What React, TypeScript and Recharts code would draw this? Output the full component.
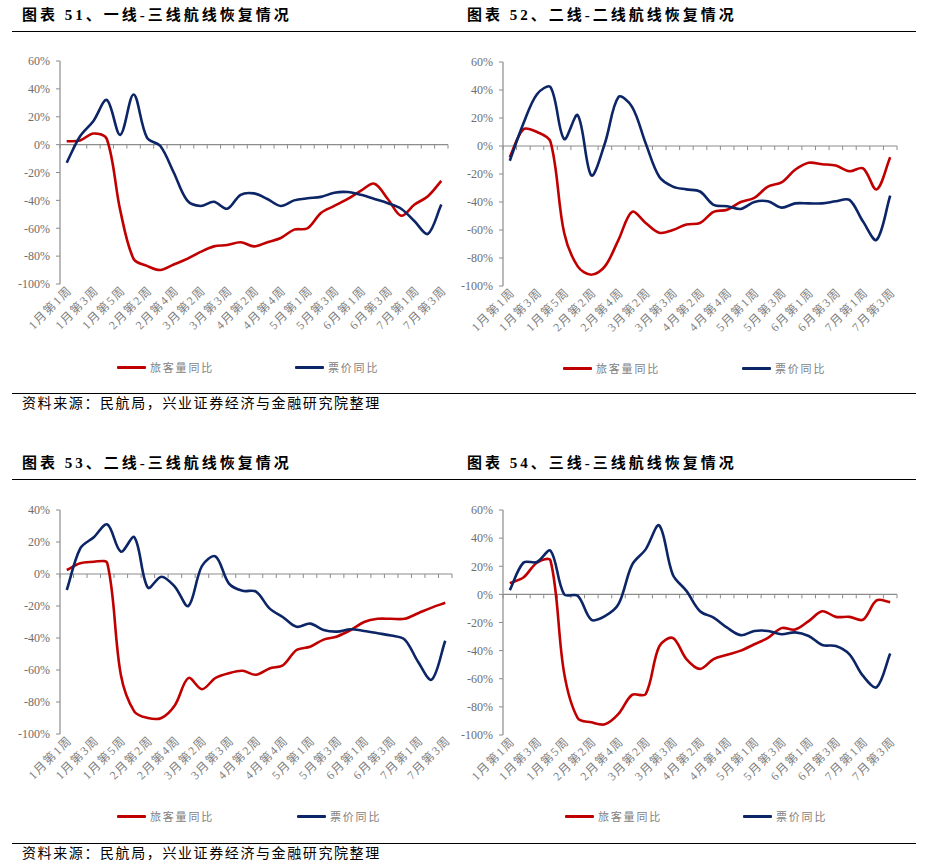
import { LineChart, Line, XAxis, YAxis, ReferenceLine } from 'recharts';

// 29 weekly categories, every other one is labelled on the axis
const weeks = [
  '1月第1周', '1月第2周', '1月第3周', '1月第4周', '1月第5周',
  '2月第1周', '2月第2周', '2月第3周', '2月第4周',
  '3月第1周', '3月第2周', '3月第3周', '3月第3周',
  '4月第1周', '4月第2周', '4月第3周', '4月第4周', '4月第5周',
  '5月第1周', '5月第2周', '5月第3周', '5月第4周',
  '6月第1周', '6月第2周', '6月第3周', '6月第4周',
  '7月第1周', '7月第2周', '7月第3周',
];

const ticksTall = [-100, -80, -60, -40, -20, 0, 20, 40, 60];
const ticksShort = [-100, -80, -60, -40, -20, 0, 20, 40];

// 图表51 一线-三线
const pax51 = [2.4, 3, 8, 4, -47, -82, -87, -90, -86, -82, -77, -73, -72, -70, -73, -70, -67, -61, -60, -49, -44, -39, -33, -28, -39, -51, -43, -37, -26];
const fare51 = [-13, 6, 17, 32, 7, 36, 5, -1, -20, -40, -44, -41, -46, -36, -35, -39, -44, -40, -38.5, -37.5, -34.5, -34, -36, -39, -42, -46, -55, -64, -43];

// 图表52 二线-二线
const pax52 = [-8, 12, 10, 3, -62, -86, -92, -86, -67, -47, -55, -62, -60, -56, -55, -47, -45.5, -40, -37, -29, -26, -17, -12, -13, -14, -18, -16, -31, -8];
const fare52 = [-10.5, 16, 37, 42, 5, 22, -21, 2, 35, 28, 2, -22, -29, -31, -32.5, -42, -43, -45, -40, -39.5, -44, -41, -41, -41, -39.5, -38.5, -54, -67, -35.5];

// 图表53 二线-三线
const pax53 = [2.5, 6.7, 7.7, 6.7, -63, -86, -90, -90, -82, -65, -72, -65, -62, -60.5, -63, -59, -57, -47.5, -45.5, -41, -39, -35, -30, -28, -28, -28, -24.5, -21, -18];
const fare53 = [-10, 16, 23, 31, 14, 23, -8.5, -1.7, -8, -20, 5, 11, -6, -10.5, -11, -21.5, -27, -33, -31, -35, -36, -34.5, -35.6, -37, -38.5, -41, -55, -66, -41.7];

// 图表54 三线-三线
const pax54 = [8, 12, 22.5, 24, -56, -88, -91, -92.4, -85, -71.5, -71, -37, -31, -46, -53, -46, -43, -40, -35.5, -31, -24, -25, -19, -12, -16, -16, -18, -4.3, -5.5];
const fare54 = [3, 22.5, 23, 31, 0, -1, -18, -15.5, -7, 21, 32, 49, 14, 2.5, -12, -16.5, -23.7, -29, -26, -26, -28.4, -27, -29.6, -36, -36.7, -42.6, -58, -66, -42];

const RED = '#C00000';
const NAVY = '#0C2566';
const AXIS = '#8C8C8C';
const SERIF = '"Liberation Serif", "Noto Sans CJK SC", serif';

// Excel-like smoothed line: bezier with chord-length scaled tangents
function smooth(ctx: any) {
  let pts: number[][] = [];
  const dist = (a: number[], b: number[]) => Math.hypot(b[0] - a[0], b[1] - a[1]);
  return {
    areaStart() {},
    areaEnd() {},
    lineStart() { pts = []; },
    point(x: number, y: number) { pts.push([+x, +y]); },
    lineEnd() {
      if (!pts.length) return;
      ctx.moveTo(pts[0][0], pts[0][1]);
      for (let i = 0; i < pts.length - 1; i++) {
        const p0 = pts[i - 1] || pts[i];
        const p1 = pts[i];
        const p2 = pts[i + 1];
        const p3 = pts[i + 2] || p2;
        const d01 = dist(p0, p1);
        const d12 = dist(p1, p2);
        const d23 = dist(p2, p3);
        const a = d01 + d12 > 0 ? d12 / (3 * (d01 + d12)) : 0;
        const b = d12 + d23 > 0 ? d12 / (3 * (d12 + d23)) : 0;
        ctx.bezierCurveTo(
          p1[0] + (p2[0] - p0[0]) * a, p1[1] + (p2[1] - p0[1]) * a,
          p2[0] - (p3[0] - p1[0]) * b, p2[1] - (p3[1] - p1[1]) * b,
          p2[0], p2[1],
        );
      }
    },
  };
}

// zero line with category tick marks
function ZeroAxis(props: any) {
  const { x1, y1, x2 } = props;
  const n = weeks.length;
  const step = (x2 - x1) / n;
  return (
    <g>
      <line x1={x1} y1={y1} x2={x2} y2={y1} stroke={AXIS} strokeWidth={1.2} />
      {Array.from({ length: n + 1 }, (_, i) => (
        <line key={i} x1={x1 + i * step} y1={y1} x2={x1 + i * step} y2={y1 + 4} stroke={AXIS} strokeWidth={1} />
      ))}
    </g>
  );
}

function WeekTick({ x, y, payload }: any) {
  return (
    <text
      transform={`translate(${x + 6},${y - 1}) rotate(-45)`}
      textAnchor="end"
      fontSize={12}
      letterSpacing={1.5}
      fill="#7F7F7F"
      fontFamily={SERIF}
    >
      {weeks[payload.value]}
    </text>
  );
}

type PanelProps = {
  pax: number[];
  fare: number[];
  yTicks: number[];
  left: number;
  top: number;
  plotW: number;
  plotH: number;
};

function Panel({ pax, fare, yTicks, left, top, plotW, plotH }: PanelProps) {
  const data = weeks.map((week, idx) => ({ idx, week, pax: pax[idx], fare: fare[idx] }));
  const half = plotW / weeks.length / 2;
  return (
    <div style={{ position: 'absolute', left: left - 60, top: top - 10 }}>
      <LineChart
        width={plotW + 65}
        height={plotH + 70}
        data={data}
        margin={{ top: 10, right: 5, bottom: 0, left: 0 }}
      >
        <XAxis
          dataKey="idx"
          type="category"
          interval={1}
          padding={{ left: half, right: half }}
          axisLine={false}
          tickLine={false}
          height={60}
          tick={<WeekTick />}
        />
        <YAxis
          width={60}
          domain={[yTicks[0], yTicks[yTicks.length - 1]]}
          ticks={yTicks}
          interval={0}
          tickFormatter={(v) => `${v}%`}
          axisLine={{ stroke: AXIS, strokeWidth: 1.2 }}
          tickLine={{ stroke: AXIS }}
          tickSize={4}
          tickMargin={6}
          tick={{ fontSize: 12, fill: '#6E6E6E', fontFamily: SERIF }}
        />
        <ReferenceLine y={0} shape={<ZeroAxis />} />
        <Line dataKey="pax" type={smooth as any} stroke={RED} strokeWidth={2.6} dot={false} isAnimationActive={false} />
        <Line dataKey="fare" type={smooth as any} stroke={NAVY} strokeWidth={2.6} dot={false} isAnimationActive={false} />
      </LineChart>
    </div>
  );
}

function LegendRow({ left, top, redX, navyX }: { left: number; top: number; redX: number; navyX: number }) {
  const item = (x: number, color: string, label: string) => (
    <div style={{ position: 'absolute', left: x, top: 0, display: 'flex', alignItems: 'center', height: 14, whiteSpace: 'nowrap' }}>
      <div style={{ width: 29, height: 3, background: color, borderRadius: 1 }} />
      <span style={{ marginLeft: 4, fontSize: 11, color: '#7F7F7F', letterSpacing: 1.8, fontFamily: SERIF }}>{label}</span>
    </div>
  );
  return (
    <div style={{ position: 'absolute', left, top }}>
      {item(redX, RED, '旅客量同比')}
      {item(navyX, NAVY, '票价同比')}
    </div>
  );
}

const titleStyle = {
  position: 'absolute' as const,
  fontSize: 15,
  fontWeight: 700,
  letterSpacing: 3,
  fontFamily: SERIF,
  color: '#000',
  lineHeight: '18px',
  whiteSpace: 'nowrap' as const,
};

const sourceStyle = {
  position: 'absolute' as const,
  left: 22,
  fontSize: 14,
  letterSpacing: 1.6,
  fontFamily: SERIF,
  color: '#000',
  lineHeight: '18px',
  whiteSpace: 'nowrap' as const,
};

const rule = (top: number) => (
  <div style={{ position: 'absolute', left: 12, width: 904, top, height: 1, background: '#000' }} />
);

export default function App() {
  return (
    <div style={{ position: 'absolute', left: 0, top: 0, width: 929, height: 867, background: '#fff', overflow: 'hidden' }}>
      <div style={{ ...titleStyle, left: 22, top: 6 }}>图表 51、一线-三线航线恢复情况</div>
      <div style={{ ...titleStyle, left: 467, top: 6 }}>图表 52、二线-二线航线恢复情况</div>
      {rule(31)}
      <Panel pax={pax51} fare={fare51} yTicks={ticksTall} left={60} top={61} plotW={388} plotH={223} />
      <Panel pax={pax52} fare={fare52} yTicks={ticksTall} left={503} top={62} plotW={394} plotH={224} />
      <LegendRow left={0} top={360} redX={117} navyX={295} />
      <LegendRow left={446} top={361} redX={117} navyX={296} />
      {rule(393)}
      <div style={{ ...sourceStyle, top: 395 }}>资料来源：民航局，兴业证券经济与金融研究院整理</div>

      <div style={{ ...titleStyle, left: 22, top: 454 }}>图表 53、二线-三线航线恢复情况</div>
      <div style={{ ...titleStyle, left: 467, top: 454 }}>图表 54、三线-三线航线恢复情况</div>
      {rule(479)}
      <Panel pax={pax53} fare={fare53} yTicks={ticksShort} left={60} top={510} plotW={392} plotH={224} />
      <Panel pax={pax54} fare={fare54} yTicks={ticksTall} left={503} top={510} plotW={394} plotH={225} />
      <LegendRow left={0} top={809} redX={117} navyX={297} />
      <LegendRow left={446} top={809} redX={119} navyX={297} />
      {rule(843)}
      <div style={{ ...sourceStyle, top: 845 }}>资料来源：民航局，兴业证券经济与金融研究院整理</div>
    </div>
  );
}
